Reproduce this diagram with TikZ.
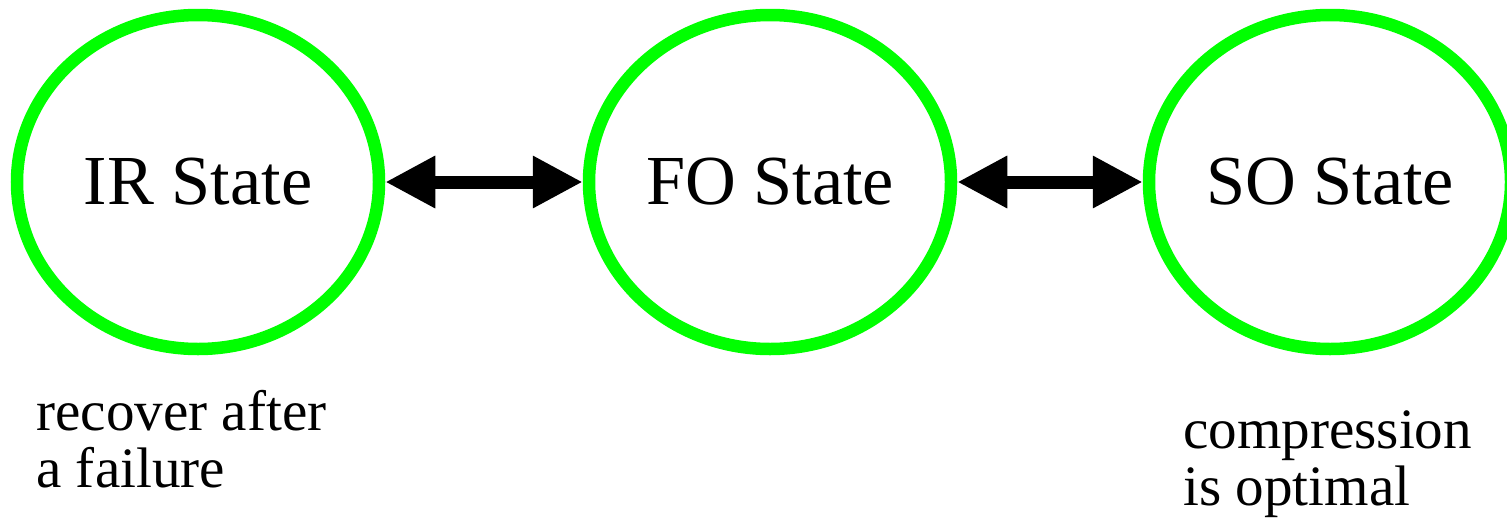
\documentclass[tikz,border=0pt]{standalone}
\usepackage{fontspec}
\setmainfont{Liberation Serif}
\usetikzlibrary{arrows.meta,shapes.geometric}

\definecolor{stategreen}{RGB}{0,255,0}

\tikzset{
    statenode/.style={draw=stategreen, line width=0.25cm, ellipse, minimum width=7.24cm, minimum height=6.68cm, inner sep=0pt, font=\fontsize{40}{48}\selectfont},
    twoway/.style={{Triangle[length=1cm,width=0.98cm]}-{Triangle[length=1cm,width=0.98cm]}, line width=0.26cm},
    note/.style={align=left, inner sep=0pt, anchor=base west, font=\fontsize{32.5}{32}\selectfont}
}

\begin{document}
\begin{tikzpicture}
    \useasboundingbox (0,0) rectangle (30.14,10.58);

    \node [statenode] (IR) at (3.96,6.94) {IR State};
    \node [statenode] (FO) at (15.4,6.94) {FO State};
    \node [statenode] (SO) at (26.6,6.94) {SO State};

    \draw [twoway] (IR) -- (FO);
    \draw [twoway] (FO) -- (SO);

    \node [note] (IRnote) at (0.72,0.84) {recover after\\a failure};
    \node [note] (SOnote) at (23.66,0.48) {compression\\is optimal};
\end{tikzpicture}
\end{document}
